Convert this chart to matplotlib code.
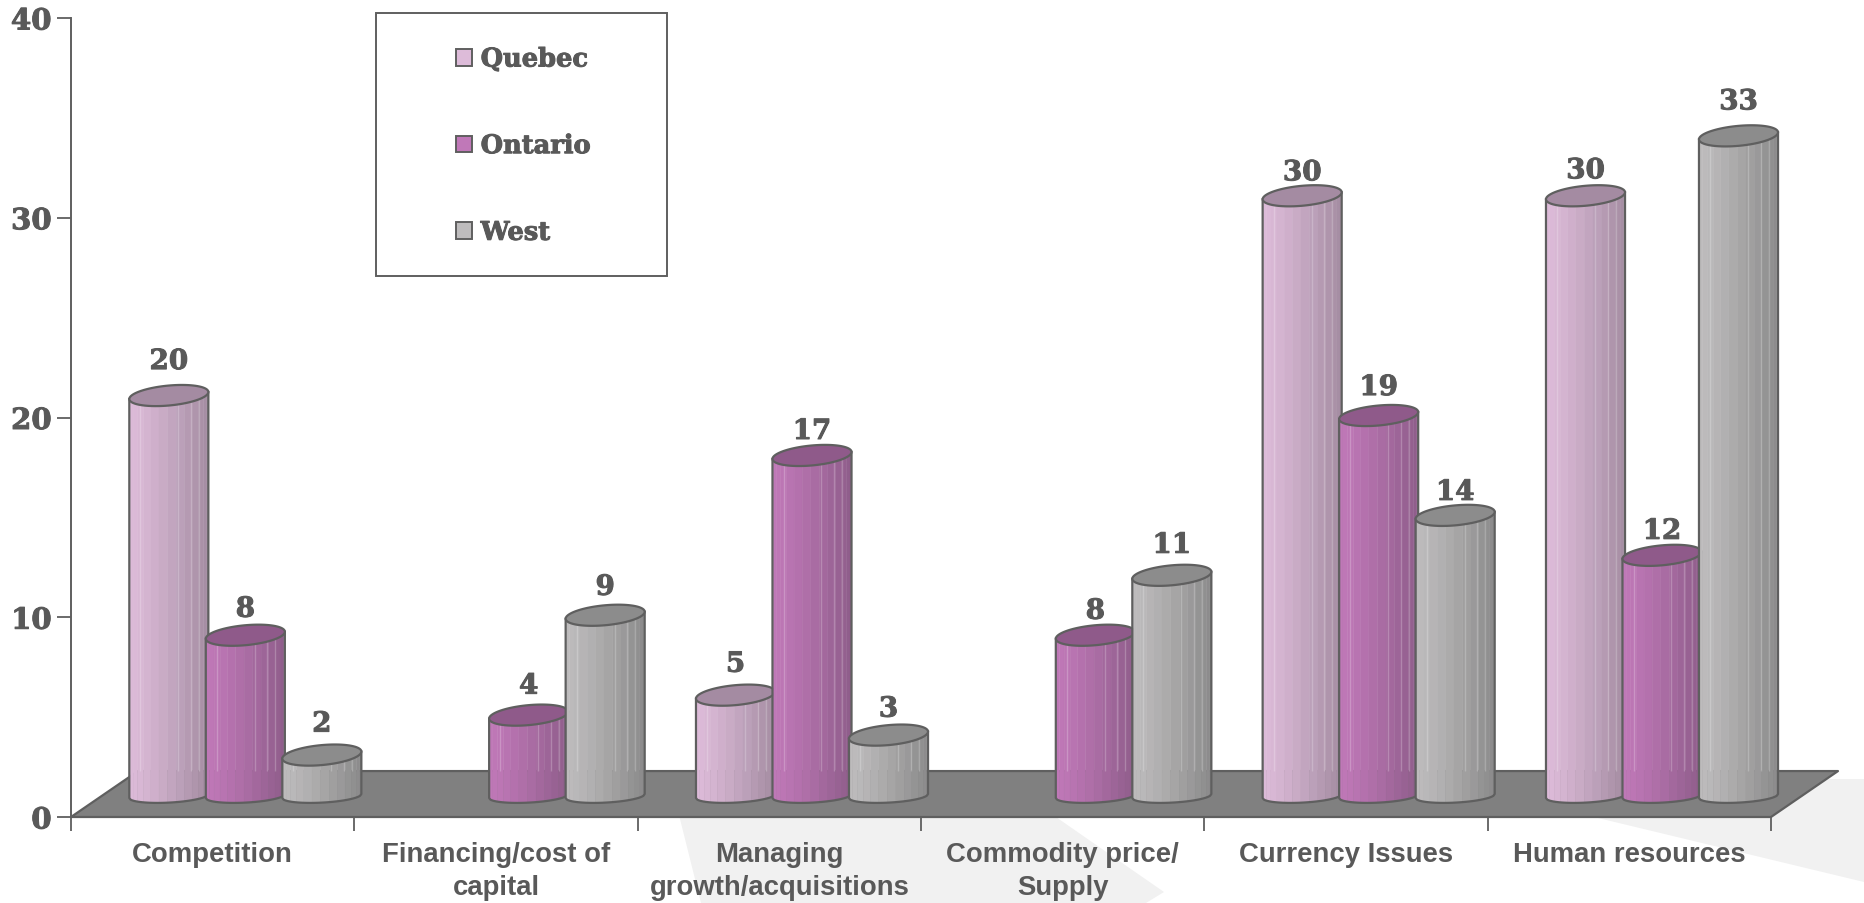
import numpy as np
import matplotlib
matplotlib.use("Agg")
import matplotlib.pyplot as plt
import matplotlib.patheffects as pe
from matplotlib.colors import to_rgb
from matplotlib.patches import Patch, Polygon, Rectangle
from matplotlib.transforms import Affine2D

categories = ["Competition", "Financing/cost of\ncapital", "Managing\ngrowth/acquisitions",
              "Commodity price/\nSupply", "Currency Issues", "Human resources"]
series_names = ["Quebec", "Ontario", "West"]
quebec = [20, None, 5, None, 30, 30]
ontario = [8, 4, 17, 8, 19, 12]
west = [2, 9, 3, 11, 14, 33]
y_ticks = [0, 10, 20, 30, 40]

# hand placement of the value labels in the reference: pixels below the default spot
label_drop = [[2, 0, 5, 0, 13, 11],
              [10, 7, 12, 12, 8, 12],
              [5, 8, 10, 6, 13, 2]]

light = ["#DDBBD9", "#C078B8", "#BEBCBD"]
dark = ["#A38CA1", "#8E5D8A", "#8A8A8A"]
caps = ["#A48BA2", "#8F5A8A", "#8C8C8C"]
INK = "#5F5F5F"
TXT = "#595959"
SERIF = "DejaVu Serif"
SANS = "Liberation Sans"
heavy = [pe.withStroke(linewidth=0.7, foreground=TXT)]

W, H = 1864, 904
fig = plt.figure(figsize=(W / 100, H / 100), dpi=100, facecolor="white")
L, R, T, B = 71, 1771, 19, 818
ax = fig.add_axes([L / W, 1 - B / H, (R - L) / W, (B - T) / H])
ax.set_xlim(0, 6)
ax.set_ylim(0, 40)
ax.patch.set_alpha(0)

# pale watermark behind the chart (pixel space)
px = Affine2D().scale(1 / W, -1 / H).translate(0, 1) + fig.transFigure
for pts in ([(675, 800), (701, 904), (1146, 904), (1164, 893), (1030, 800)],
            [(1598, 819), (1864, 883), (1864, 780), (1790, 780), (1500, 780)]):
    fig.add_artist(Polygon(pts, closed=True, transform=px, fc="#F1F1F1", ec="none", zorder=-5))

# floor
depth_x, depth_y = 67 / 283.3, 2.3
ax.fill([0, 6, 6 + depth_x, depth_x], [0, 0, depth_y, depth_y], fc="#808080", ec=INK, lw=1.6,
        clip_on=False, zorder=1, joinstyle="round")

bar_w = 0.279
step = 0.27
lead = 58.3 / 283.3
base_y = 1.05
top_off = 1.1
edges = 0.5 - 0.5 * np.cos(np.linspace(0, np.pi * 0.98, 15))
edges = (edges - edges[0]) / (edges[-1] - edges[0])
unit = (B - T) / 40


def lower(xf, mid, h, tilt):
    c = 2 * xf - 1
    return mid - h * np.sqrt(np.clip(1 - c ** 2, 0, 1)) + tilt * c


for s, vals in enumerate([quebec, ontario, west]):
    c0, c1 = np.array(to_rgb(light[s])), np.array(to_rgb(dark[s]))
    for i, v in enumerate(vals):
        if v is None:
            continue
        x0 = i + lead + s * step
        xc = x0 + bar_w / 2
        ty = v + top_off
        zz = 2 + i * 10 + s
        xfs = np.linspace(0, 1, 61)
        for a, b in zip(edges[:-1], edges[1:]):
            f = (a + b) / 2
            col = c0 + (c1 - c0) * f ** 1.25
            fs = np.linspace(a, b, 6)
            xs = x0 + fs * bar_w
            bot = lower(fs, base_y, 0.33, 0.1)
            tp = lower(fs, ty, 0.5, 0.175)
            ax.fill(np.r_[xs, xs[::-1]], np.r_[bot, tp[::-1]], fc=col, ec=col, lw=0.3,
                    clip_on=False, zorder=zz)
        for f in (0.14, 0.62, 0.78, 0.88):
            xl = x0 + f * bar_w
            if ty > depth_y:
                ax.plot([xl, xl], [depth_y, ty], color="white", alpha=0.22, lw=1,
                        clip_on=False, zorder=zz, solid_capstyle="butt")
        t = np.linspace(0, 2 * np.pi, 100)
        ax.fill(xc + bar_w / 2 * np.cos(t), ty + 0.5 * np.sin(t) + 0.175 * np.cos(t),
                fc=caps[s], ec=INK, lw=1.6, clip_on=False, zorder=zz + 0.5)
        bot = lower(xfs, base_y, 0.33, 0.1)
        ax.plot(np.r_[x0, x0 + xfs * bar_w, x0 + bar_w],
                np.r_[ty - 0.175, bot, ty + 0.175], color=INK, lw=1.6, clip_on=False,
                zorder=zz + 0.4, solid_joinstyle="round")
        ax.text(xc, v + top_off + 1.8 - label_drop[s][i] / unit, str(v), ha="center", va="center",
                family=SERIF, weight="bold", fontsize=20, color=TXT, zorder=200,
                path_effects=heavy)

# axes
for sp in ("top", "right", "bottom"):
    ax.spines[sp].set_visible(False)
ax.spines["left"].set_color(INK)
ax.spines["left"].set_linewidth(1.4)
ax.set_yticks(y_ticks)
ax.set_yticklabels([str(v) for v in y_ticks], family=SERIF, weight="bold", fontsize=21, color=TXT,
                   path_effects=heavy)
ax.tick_params(axis="y", length=10, width=1.3, color=INK, pad=4)
ax.set_xticks(range(7))
ax.set_xticklabels([])
ax.tick_params(axis="x", which="major", length=10, width=1.3, color=INK)
ax.set_xticks(np.arange(6) + 0.5, minor=True)
ax.set_xticklabels(categories, minor=True, family=SANS, weight="bold", fontsize=19.8, color=TXT,
                   linespacing=1.36)
ax.tick_params(axis="x", which="minor", length=0, pad=17)

# legend
fig.add_artist(Rectangle((376, 14), 291, 263, transform=px, fc="white", ec=INK, lw=1.4, zorder=3))
handles = [Patch(fc=c, ec=INK, lw=1.4) for c in light]
leg = fig.legend(handles, series_names, loc="upper left", bbox_to_anchor=(456 / W, 1 - 47.5 / H),
                 frameon=False, prop={"family": SERIF, "weight": "bold", "size": 18.5},
                 labelcolor=TXT, handlelength=0.62, handleheight=0.62, handletextpad=0.34,
                 labelspacing=2.4, borderpad=0, borderaxespad=0)
leg.set_zorder(4)
for txt in leg.get_texts():
    txt.set_path_effects(heavy)

fig.savefig("out.png", dpi=100, facecolor="white")
